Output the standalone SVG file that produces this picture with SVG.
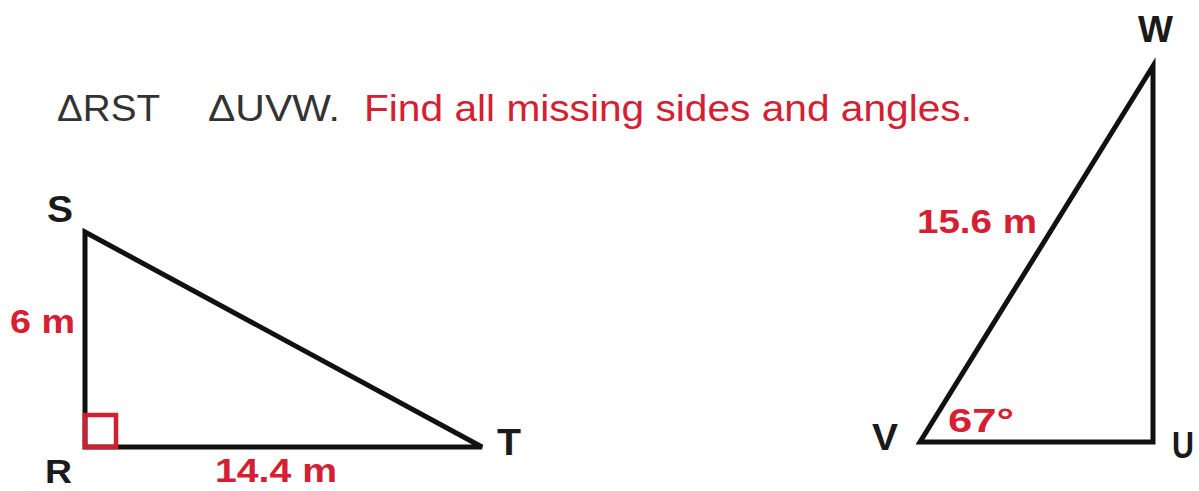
<svg xmlns="http://www.w3.org/2000/svg" width="1199" height="491" viewBox="0 0 1199 491">
<style>
.hdr{font-family:"Liberation Sans",Arial,sans-serif;font-size:36px;fill:#333}
.red{fill:#d42032}
.lbl{font-family:"Liberation Sans",Arial,sans-serif;font-size:36px;font-weight:bold;fill:#1a1a1a}
.meas{font-family:"Liberation Sans",Arial,sans-serif;font-size:34px;font-weight:bold;fill:#d42032}
.edge{fill:none;stroke:#111;stroke-width:5;stroke-linejoin:miter}
</style>
<rect width="1199" height="491" fill="#fff"/>
<g id="title">
<text class="hdr" x="57" y="121" textLength="103" lengthAdjust="spacingAndGlyphs">ΔRST</text>
<text class="hdr" x="208" y="121" textLength="132" lengthAdjust="spacingAndGlyphs">ΔUVW.</text>
<text class="hdr red" x="364" y="121" textLength="608" lengthAdjust="spacingAndGlyphs">Find all missing sides and angles.</text>
</g>
<g id="connectors">
<polygon class="edge" points="85,232 85,447 482,447"/>
<polygon class="edge" points="920,442 1153,442 1153,66"/>
</g>
<g id="right-angle">
<rect x="85" y="415" width="31" height="32" fill="none" stroke="#d01f2e" stroke-width="4.5"/>
</g>
<g id="node-S"><text class="lbl" x="47" y="222" textLength="26" lengthAdjust="spacingAndGlyphs">S</text></g>
<g id="node-R"><text class="lbl" x="45" y="483" style="font-size:33px" textLength="27" lengthAdjust="spacingAndGlyphs">R</text></g>
<g id="node-T"><text class="lbl" x="497" y="455" textLength="24" lengthAdjust="spacingAndGlyphs">T</text></g>
<g id="node-V"><text class="lbl" x="872" y="450" textLength="26" lengthAdjust="spacingAndGlyphs">V</text></g>
<g id="node-U"><text class="lbl" x="1172" y="458" textLength="22" lengthAdjust="spacingAndGlyphs">U</text></g>
<g id="node-W"><text class="lbl" x="1138" y="42" textLength="35" lengthAdjust="spacingAndGlyphs">W</text></g>
<g id="label-6m"><text class="meas" x="10" y="333" textLength="65" lengthAdjust="spacingAndGlyphs">6 m</text></g>
<g id="label-14m"><text class="meas" x="215" y="482" textLength="122" lengthAdjust="spacingAndGlyphs">14.4 m</text></g>
<g id="label-15m"><text class="meas" x="917" y="233" textLength="120" lengthAdjust="spacingAndGlyphs">15.6 m</text></g>
<g id="label-67"><text class="meas" x="948" y="432" textLength="66" lengthAdjust="spacingAndGlyphs">67°</text></g>
</svg>
